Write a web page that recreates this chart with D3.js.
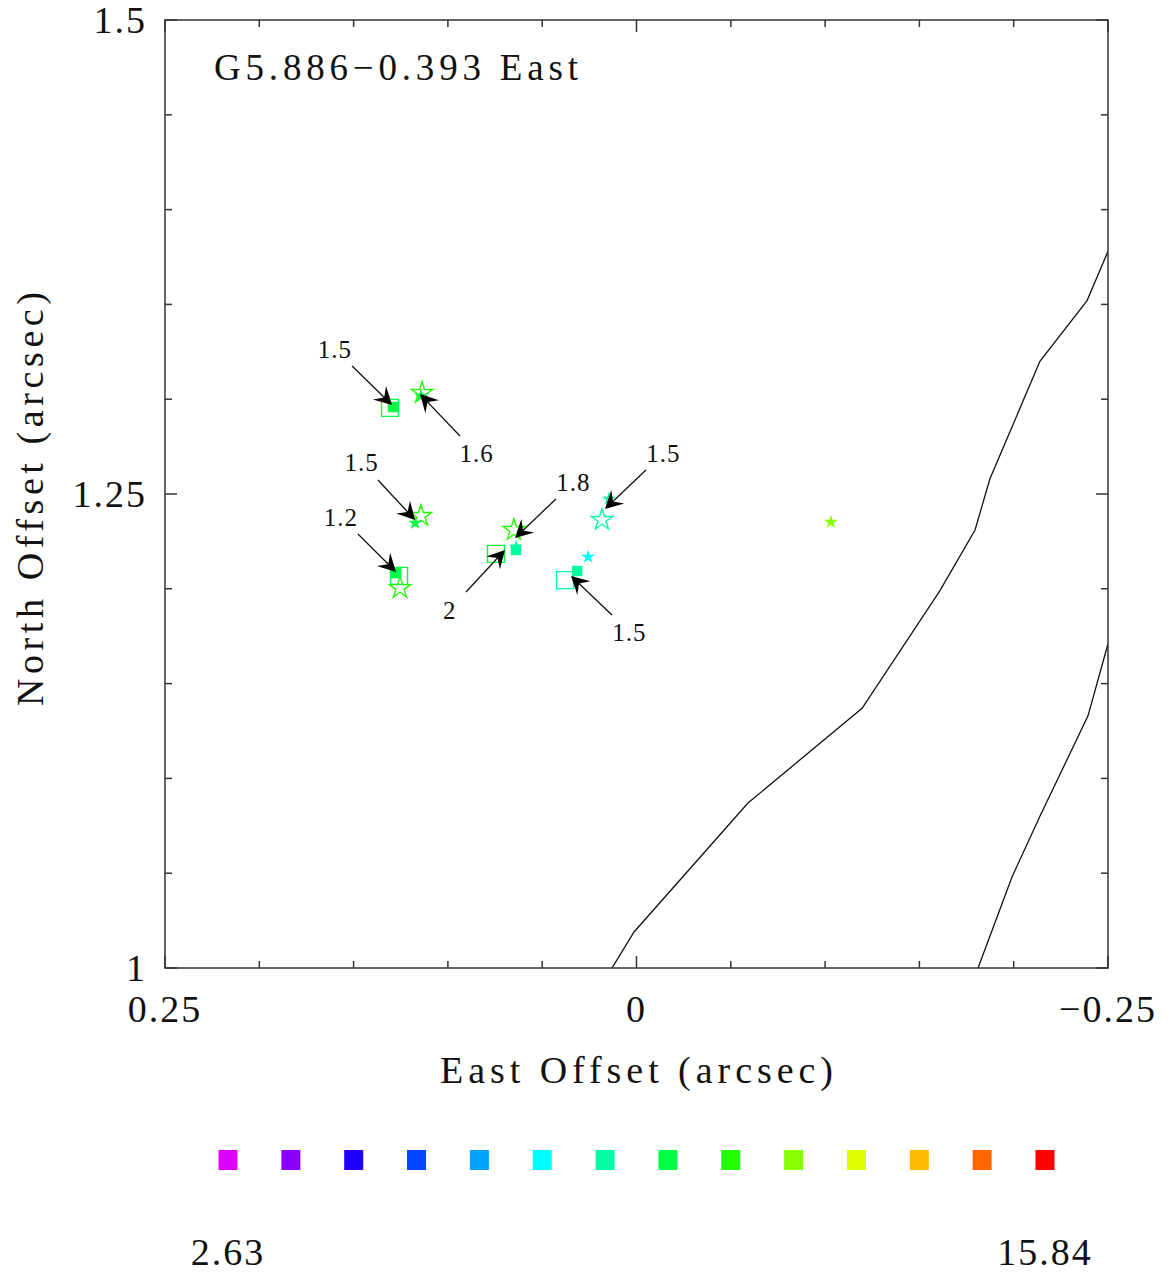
<!DOCTYPE html>
<html>
<head>
<meta charset="utf-8">
<script src="https://cdn.jsdelivr.net/npm/d3@7"></script>
<style>
  body { margin: 0; background: #fff; }
  text { font-family: "Liberation Serif", "DejaVu Serif", serif; fill: #111; }
</style>
</head>
<body>
<svg id="chart" width="1173" height="1274"></svg>
<script>
// ---- data -------------------------------------------------------------
const titleText = "G5.886\u22120.393 East";
const xLabel = "East Offset (arcsec)";
const yLabel = "North Offset (arcsec)";

const xDomain = [0.25, -0.25];
const yDomain = [1.0, 1.5];
const xTickLabels = [0.25, 0, -0.25];
const yTickLabels = [1, 1.25, 1.5];
const minorTicks = d3.range(-0.25, 0.2501, 0.05);
const minorTicksY = d3.range(1.0, 1.5001, 0.05);

// velocity colour bar
const colourRange = [2.63, 15.84];
const colourBins = ["#dd00ff", "#8800ff", "#2200ff", "#0044ff", "#00a0ff", "#00ffff", "#00ffa0",
                    "#00ff44", "#22ff00", "#88ff00", "#ddff00", "#ffbb00", "#ff6600", "#ff0000"];

// maser spots: [east offset, north offset, velocity]
const openSquares = [
  [0.1307, 1.2954, 9.7],
  [0.1259, 1.2068, 9.7],
  [0.0745, 1.2184, 9.7],
  [0.0379, 1.2046, 8.8]
];
const filledSquares = [
  [0.1291, 1.2959, 9.7],
  [0.1275, 1.2083, 9.7],
  [0.0639, 1.2205, 8.8],
  [0.0315, 1.2094, 8.8]
];
const openStars = [
  [0.1137, 1.3033, 10.6],
  [0.1143, 1.2384, 10.6],
  [0.1254, 1.2004, 10.6],
  [0.0650, 1.2310, 10.6],
  [0.0183, 1.2363, 8.8]
];
const filledStars = [
  [0.1143, 1.3017, 9.7],
  [0.1174, 1.2347, 9.7],
  [0.0639, 1.2220, 8.8],
  [0.0146, 1.2474, 8.8],
  [0.0257, 1.2168, 7.8],
  [-0.1031, 1.2352, 11.5]
];

// proper-motion arrows: tail, tip, label
const arrowTails = [
  [0.1508, 1.3175], [0.0936, 1.2806], [0.1371, 1.2574], [0.1477, 1.2289],
  [0.0904, 1.1983], [0.0427, 1.2474], [-0.0050, 1.2627], [0.0130, 1.1862]
];
const arrowTips = [
  [0.1296, 1.2969], [0.1148, 1.3027], [0.1174, 1.2363], [0.1275, 1.2089],
  [0.0697, 1.2205], [0.0644, 1.2268], [0.0167, 1.2421], [0.0347, 1.2068]
];
const arrowLabels = ["1.5", "1.6", "1.5", "1.2", "2", "1.8", "1.5", "1.5"];

// continuum contours
const contourA = [
  [0.0130, 1.000], [0.0013, 1.019], [-0.0591, 1.087], [-0.1196, 1.137], [-0.1609, 1.199],
  [-0.1795, 1.231], [-0.1874, 1.258], [-0.2139, 1.320], [-0.2389, 1.352], [-0.2500, 1.378]
];
const contourB = [
  [-0.1811, 1.000], [-0.1991, 1.048], [-0.2139, 1.080], [-0.2394, 1.133], [-0.2500, 1.171]
];

// ---- layout -----------------------------------------------------------
const plot = { left: 165, top: 20, width: 943, height: 948 };
const svg = d3.select("#chart");
svg.append("rect").attr("width", 1173).attr("height", 1274).attr("fill", "#fff");

const x = d3.scaleLinear().domain(xDomain).range([plot.left, plot.left + plot.width]);
const y = d3.scaleLinear().domain(yDomain).range([plot.top + plot.height, plot.top]);
const colour = d3.scaleQuantize().domain(colourRange).range(colourBins);

svg.append("defs").append("clipPath").attr("id", "plotClip")
  .append("rect")
  .attr("x", plot.left).attr("y", plot.top)
  .attr("width", plot.width).attr("height", plot.height);

// contours
const line = d3.line().x(d => x(d[0])).y(d => y(d[1]));
const cg = svg.append("g").attr("clip-path", "url(#plotClip)");
[contourA, contourB].forEach(c => {
  cg.append("path").attr("d", line(c))
    .attr("fill", "none").attr("stroke", "#111").attr("stroke-width", 1.3);
});

// frame and ticks
const frame = svg.append("g").attr("stroke", "#333").attr("stroke-width", 1.5);
frame.append("rect")
  .attr("x", plot.left).attr("y", plot.top)
  .attr("width", plot.width).attr("height", plot.height)
  .attr("fill", "none");

const isMajor = (v, list) => list.some(m => Math.abs(m - v) < 1e-6);
minorTicks.forEach(v => {
  const len = isMajor(v, xTickLabels) ? 12 : 7;
  const px = x(v);
  frame.append("line").attr("x1", px).attr("x2", px)
    .attr("y1", plot.top + plot.height).attr("y2", plot.top + plot.height - len);
  frame.append("line").attr("x1", px).attr("x2", px)
    .attr("y1", plot.top).attr("y2", plot.top + len);
});
minorTicksY.forEach(v => {
  const len = isMajor(v, yTickLabels) ? 12 : 7;
  const py = y(v);
  frame.append("line").attr("y1", py).attr("y2", py)
    .attr("x1", plot.left).attr("x2", plot.left + len);
  frame.append("line").attr("y1", py).attr("y2", py)
    .attr("x1", plot.left + plot.width).attr("x2", plot.left + plot.width - len);
});

// tick labels
const fmt = v => d3.format("")(v);
svg.append("g").selectAll("text").data(xTickLabels).join("text")
  .attr("x", d => x(d)).attr("y", plot.top + plot.height + 54)
  .attr("text-anchor", "middle")
  .attr("font-size", 38).attr("letter-spacing", 2)
  .text(d => fmt(d));
svg.append("g").selectAll("text").data(yTickLabels).join("text")
  .attr("x", plot.left - 18).attr("y", d => y(d) + 13)
  .attr("text-anchor", "end")
  .attr("font-size", 38).attr("letter-spacing", 2)
  .text(d => fmt(d));

// axis titles and plot title
svg.append("text")
  .attr("x", 440).attr("y", 1083)
  .attr("font-size", 38)
  .attr("textLength", 393).attr("lengthAdjust", "spacing")
  .text(xLabel);
svg.append("text")
  .attr("transform", "translate(43,706) rotate(-90)")
  .attr("font-size", 38)
  .attr("textLength", 414).attr("lengthAdjust", "spacing")
  .text(yLabel);
svg.append("text")
  .attr("x", 214).attr("y", 80)
  .attr("font-size", 37)
  .attr("textLength", 364).attr("lengthAdjust", "spacing")
  .text(titleText);

// markers
const mg = svg.append("g").attr("clip-path", "url(#plotClip)");
const sym = (type, size) => d3.symbol().type(type).size(size)();
mg.selectAll(".osq").data(openSquares).join("path")
  .attr("transform", d => `translate(${x(d[0])},${y(d[1])})`)
  .attr("d", sym(d3.symbolSquare, 289))
  .attr("fill", "none").attr("stroke", d => colour(d[2])).attr("stroke-width", 1.4);
mg.selectAll(".ost").data(openStars).join("path")
  .attr("transform", d => `translate(${x(d[0])},${y(d[1])})`)
  .attr("d", sym(d3.symbolStar, 140))
  .attr("fill", "none").attr("stroke", d => colour(d[2])).attr("stroke-width", 1.4);
mg.selectAll(".fsq").data(filledSquares).join("path")
  .attr("transform", d => `translate(${x(d[0])},${y(d[1])})`)
  .attr("d", sym(d3.symbolSquare, 110))
  .attr("fill", d => colour(d[2]));
mg.selectAll(".fst").data(filledStars).join("path")
  .attr("transform", d => `translate(${x(d[0])},${y(d[1])})`)
  .attr("d", sym(d3.symbolStar, 60))
  .attr("fill", d => colour(d[2]));

// arrows
const ag = svg.append("g");
arrowTails.forEach((t, i) => {
  const tip = arrowTips[i];
  const x0 = x(t[0]), y0 = y(t[1]), x1 = x(tip[0]), y1 = y(tip[1]);
  const dx = x0 - x1, dy = y0 - y1, L = Math.hypot(dx, dy);
  const ux = dx / L, uy = dy / L;
  const head = 20, ang = 28 * Math.PI / 180;
  const rot = a => [ux * Math.cos(a) - uy * Math.sin(a), ux * Math.sin(a) + uy * Math.cos(a)];
  const r1 = rot(ang), r2 = rot(-ang);
  ag.append("line")
    .attr("x1", x0).attr("y1", y0).attr("x2", x1 + ux * 8).attr("y2", y1 + uy * 8)
    .attr("stroke", "#111").attr("stroke-width", 1.3);
  const pts = [
    [x1, y1],
    [x1 + r1[0] * head, y1 + r1[1] * head],
    [x1 + ux * head * 0.55, y1 + uy * head * 0.55],
    [x1 + r2[0] * head, y1 + r2[1] * head]
  ];
  ag.append("path").attr("d", "M" + pts.map(p => p.join(",")).join("L") + "Z")
    .attr("fill", "#000");
  ag.append("text")
    .attr("x", x0 + ux * 24).attr("y", y0 + uy * 24 + 9)
    .attr("text-anchor", "middle")
    .attr("font-size", 25).attr("letter-spacing", 1)
    .text(arrowLabels[i]);
});

// colour bar
const cb = d3.scaleLinear().domain([0, colourBins.length - 1]).range([228, 1045]);
svg.append("g").selectAll("rect").data(colourBins).join("rect")
  .attr("x", (d, i) => cb(i) - 9.5).attr("y", 1150)
  .attr("width", 19).attr("height", 20)
  .attr("fill", d => d);
svg.append("g").selectAll("text").data(colourRange).join("text")
  .attr("x", (d, i) => cb(i * (colourBins.length - 1)))
  .attr("y", 1265)
  .attr("text-anchor", "middle")
  .attr("font-size", 38).attr("letter-spacing", 2)
  .text(d => d3.format(".2f")(d));
</script>
</body>
</html>
